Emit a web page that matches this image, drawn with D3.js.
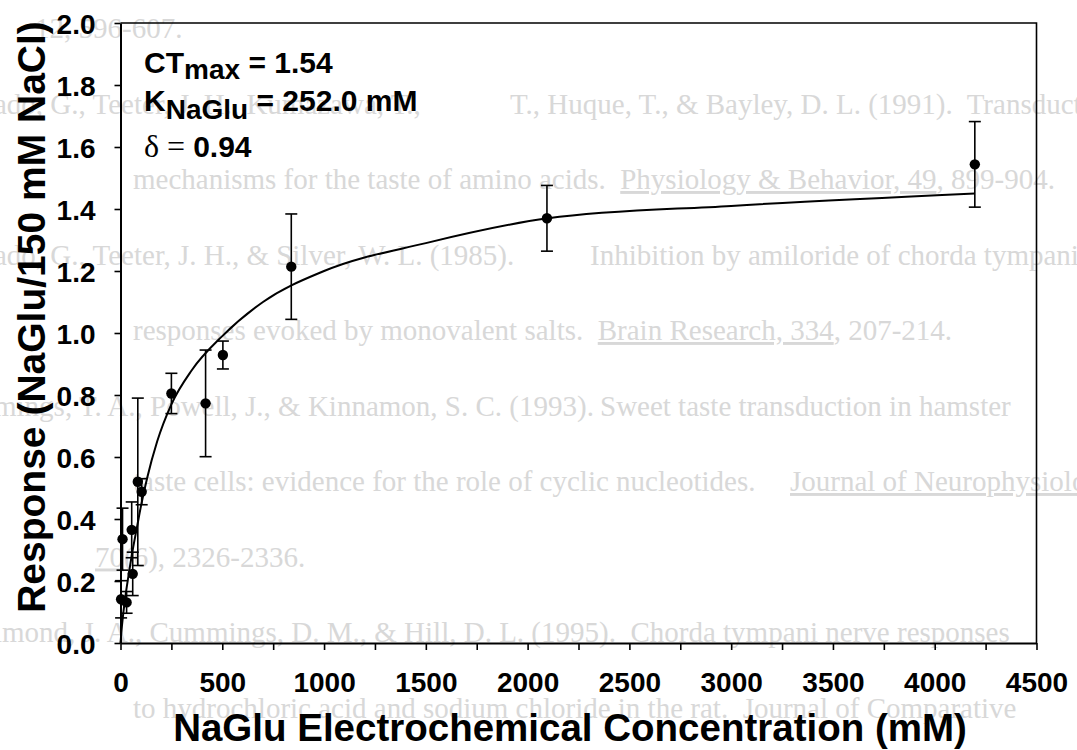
<!DOCTYPE html>
<html>
<head>
<meta charset="utf-8">
<script src="https://cdn.jsdelivr.net/npm/d3@7"></script>
<style>
  body { margin: 0; background: #fff; }
  #container { width: 1077px; height: 750px; }
</style>
</head>
<body>
<div id="container"></div>
<script>
// measured points (concentration in mM, normalised response, +/- error)
let concentration = [3, 10, 30, 55, 60, 85, 104, 250, 418, 503, 839, 2095, 4197];
let response      = [0.141, 0.335, 0.131, 0.365, 0.223, 0.52, 0.488, 0.805, 0.773, 0.929, 1.214, 1.370, 1.544];
let responseErr   = [0.06, 0.10, 0.035, 0.09, 0.07, 0.27, 0.042, 0.065, 0.172, 0.045, 0.17, 0.106, 0.138];

// fitted curve
let fitConc = [0, 5, 20, 40, 60, 80, 100, 130, 180, 250, 350, 500, 700, 1000, 1500, 2100, 3000, 4197];
let fitResp = [0, 0.04, 0.13, 0.22, 0.30, 0.37, 0.44, 0.53, 0.65, 0.77, 0.88, 0.99, 1.10, 1.20, 1.29, 1.37, 1.41, 1.45];

let xTicks = d3.range(0, 4501, 250);
let yTicks = [0, 0.2, 0.4, 0.6, 0.8, 1.0, 1.2, 1.4, 1.6, 1.8, 2.0];

// faint text showing through the scanned page: [row, x, segments]
let ghostLines = [
  [0, 35,  [["12, 596-607.", false]]],
  [1, -6,  [["ado, G., Teeter, J. H., Kumazawa, T.,", false]]],
  [1, 510, [["T., Huque, T., & Bayley, D. L. (1991).  Transduction", false]]],
  [2, 133, [["mechanisms for the taste of amino acids.  ", false], ["Physiology & Behavior, 49", true], [", 899-904.", false]]],
  [3, -6,  [["ado, G., Teeter, J. H., & Silver, W. L. (1985).", false]]],
  [3, 590, [["Inhibition by amiloride of chorda tympani", false]]],
  [4, 133, [["responses evoked by monovalent salts.  ", false], ["Brain Research, 334", true], [", 207-214.", false]]],
  [5, -6,  [["mings, T. A., Powell, J., & Kinnamon, S. C. (1993).", false]]],
  [5, 600, [["Sweet taste transduction in hamster", false]]],
  [6, 133, [["taste cells: evidence for the role of cyclic nucleotides.", false]]],
  [6, 790, [["Journal of Neurophysiology,", true]]],
  [7, 95,  [["70", true], ["(6), 2326-2336.", false]]],
  [8, -6,  [["imond, J. A., Cummings, D. M., & Hill, D. L. (1995).  Chorda tympani nerve responses", false]]],
  [9, 133, [["to hydrochloric acid and sodium chloride in the rat.  Journal of Comparative", false]]]
];

let W = 1077, H = 750;
let mLeft = 120.5, mRight = 1036.5, mTop = 23, mBottom = 643;

let svg = d3.select("#container")
  .append("svg")
    .attr("width", W)
    .attr("height", H)
    .style("font-family", "'Liberation Sans', Arial, sans-serif")
  ;

svg.append("rect").attr("width", W).attr("height", H).attr("fill", "#fff");

// ghost page
let ghost = svg.append("g")
    .attr("fill", "#d8d8d8")
    .style("font-family", "'Liberation Serif', 'Times New Roman', serif")
    .style("font-size", "29px")
  ;
ghostLines.forEach(function(g){
  let t = ghost.append("text")
      .attr("x", g[1])
      .attr("y", 38 + g[0] * 75.5)
      .style("white-space", "pre");
  g[2].forEach(function(s){
    t.append("tspan")
      .text(s[0])
      .style("text-decoration", s[1] ? "underline" : "none");
  });
});

let x = d3.scaleLinear().domain([0, 4500]).range([mLeft, mRight]);
let y = d3.scaleLinear().domain([0, 2]).range([mBottom, mTop]);

// frame (top and right)
svg.append("path")
    .attr("d", "M" + mLeft + "," + mTop + "H" + mRight + "V" + mBottom)
    .attr("fill", "none")
    .attr("stroke", "#000")
    .attr("stroke-width", 1.6)
  ;

// x axis
let xAxis = svg.append("g")
    .attr("transform", "translate(0," + mBottom + ")")
    .call(d3.axisBottom(x)
      .tickValues(xTicks)
      .tickSize(7)
      .tickSizeOuter(0)
      .tickPadding(22)
      .tickFormat(function(d){ return d % 500 == 0 ? d : ""; }))
  ;
xAxis.select(".domain").attr("stroke-width", 2);
xAxis.selectAll(".tick line").attr("stroke-width", 1.6);
xAxis.selectAll("text")
    .attr("fill", "#000")
    .style("font-size", "28px")
    .style("font-weight", "bold")
    .style("font-family", "'Liberation Sans', Arial, sans-serif")
  ;

// y axis
let yAxis = svg.append("g")
    .attr("transform", "translate(" + mLeft + ",0)")
    .call(d3.axisLeft(y)
      .tickValues(yTicks)
      .tickSize(6)
      .tickSizeOuter(0)
      .tickPadding(19)
      .tickFormat(d3.format(".1f")))
  ;
yAxis.select(".domain").attr("stroke-width", 2);
yAxis.selectAll(".tick line").attr("stroke-width", 1.6);
yAxis.selectAll("text")
    .attr("fill", "#000")
    .attr("dy", "0.36em")
    .style("font-size", "28px")
    .style("font-weight", "bold")
    .style("font-family", "'Liberation Sans', Arial, sans-serif")
  ;

// axis titles
svg.append("text")
    .attr("x", 570)
    .attr("y", 741)
    .attr("text-anchor", "middle")
    .style("font-size", "38.5px")
    .style("font-weight", "bold")
    .text("NaGlu Electrochemical Concentration (mM)")
  ;
svg.append("text")
    .attr("transform", "translate(45,317) rotate(-90)")
    .attr("text-anchor", "middle")
    .style("font-size", "39px")
    .style("font-weight", "bold")
    .text("Response (NaGlu/150 mM NaCl)")
  ;

// fitted curve
let fitData = fitConc.map(function(c, i){ return {c: c, r: fitResp[i]}; });
let line = d3.line()
    .x(function(d){ return x(d.c); })
    .y(function(d){ return y(d.r); })
    .curve(d3.curveMonotoneX);

svg.append("path")
    .datum(fitData)
    .attr("d", line)
    .attr("fill", "none")
    .attr("stroke", "#000")
    .attr("stroke-width", 2)
  ;

// data points with error bars
let points = concentration.map(function(c, i){
  return {c: c, r: response[i], e: responseErr[i]};
});

let groups = svg.selectAll(".pt").data(points).enter()
  .append("g")
    .attr("class", "pt")
  ;

groups.append("line")
    .attr("x1", function(d){ return x(d.c); })
    .attr("x2", function(d){ return x(d.c); })
    .attr("y1", function(d){ return y(d.r + d.e); })
    .attr("y2", function(d){ return y(d.r - d.e); })
    .attr("stroke", "#000")
    .attr("stroke-width", 1.6)
  ;
groups.append("line")
    .attr("x1", function(d){ return x(d.c) - 6; })
    .attr("x2", function(d){ return x(d.c) + 6; })
    .attr("y1", function(d){ return y(d.r + d.e); })
    .attr("y2", function(d){ return y(d.r + d.e); })
    .attr("stroke", "#000")
    .attr("stroke-width", 1.6)
  ;
groups.append("line")
    .attr("x1", function(d){ return x(d.c) - 6; })
    .attr("x2", function(d){ return x(d.c) + 6; })
    .attr("y1", function(d){ return y(d.r - d.e); })
    .attr("y2", function(d){ return y(d.r - d.e); })
    .attr("stroke", "#000")
    .attr("stroke-width", 1.6)
  ;
groups.append("circle")
    .attr("cx", function(d){ return x(d.c); })
    .attr("cy", function(d){ return y(d.r); })
    .attr("r", 5.2)
    .attr("fill", "#000")
  ;

// fit parameters
let note = svg.append("g")
    .style("font-size", "30px")
    .style("font-weight", "bold")
  ;
let l1 = note.append("text").attr("x", 144).attr("y", 73);
l1.append("tspan").text("CT");
l1.append("tspan").attr("dy", 6).style("font-size", "28px").text("max");
l1.append("tspan").attr("dy", -6).text(" = 1.54");

let l2 = note.append("text").attr("x", 144).attr("y", 111);
l2.append("tspan").text("K");
l2.append("tspan").attr("dy", 8).style("font-size", "28px").text("NaGlu");
l2.append("tspan").attr("dy", -8).text(" = 252.0 mM");

let l3 = note.append("text").attr("x", 144).attr("y", 157);
l3.append("tspan")
    .style("font-family", "'Liberation Serif', 'Times New Roman', serif")
    .style("font-weight", "normal")
    .style("font-size", "32px")
    .text("\u03B4 = ");
l3.append("tspan").text("0.94");
</script>
</body>
</html>
